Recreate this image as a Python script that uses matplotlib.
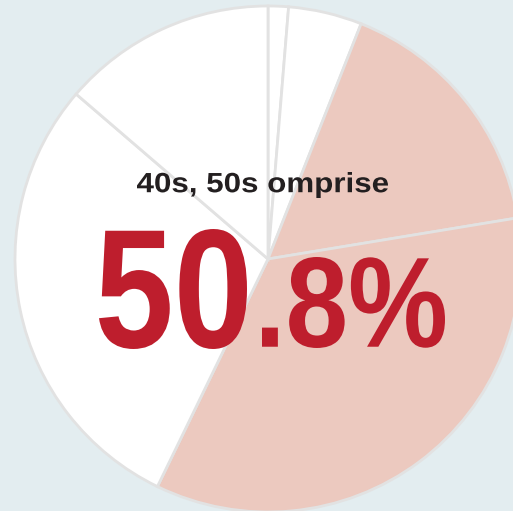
import matplotlib.pyplot as plt
from matplotlib.textpath import TextPath
from matplotlib.font_manager import FontProperties
from matplotlib.patheffects import AbstractPathEffect
from matplotlib.transforms import Affine2D

# age share (percent), clockwise from the top
ages = ['20s', '30s', '40s', '50s', '60s', '70s+']
shares = [1.3, 4.7, 16.4, 34.8, 29.1, 13.7]
highlight = ['40s', '50s']
big_num = '50'
small_num = '.8%'
title = '40s, 50s omprise'

bg = '#e3edf0'
pink = '#ecc9bf'
red = '#be1e2d'
W, H = 513, 511

fig = plt.figure(figsize=(W/100, H/100), dpi=100, facecolor=bg)
ax = fig.add_axes([0, 0, 1, 1])
ax.set_facecolor(bg)

cols = [pink if a in highlight else 'white' for a in ages]
ax.pie(shares, colors=cols, startangle=90, counterclock=False,
       center=(268, H-259), radius=253,
       wedgeprops=dict(edgecolor='#e2e2e2', linewidth=2))
ax.set_xlim(0, W)
ax.set_ylim(0, H)
ax.set_aspect('auto')
ax.axis('off')


class Stretch(AbstractPathEffect):
    # stretches glyphs up from the baseline (original font is taller/narrower)
    def __init__(self, sy):
        super().__init__()
        self.sy = sy

    def draw_path(self, renderer, gc, tpath, affine, rgbFace=None):
        renderer.draw_path(gc, tpath, Affine2D().scale(1, self.sy) + affine, rgbFace)


fp = FontProperties(family='Liberation Sans', weight='bold')

def boxed_text(s, x0, x1, top, bottom, color):
    # real text, font size set by the ink width, then stretched to the ink height
    ext = TextPath((0, 0), s, size=1, prop=fp).get_extents()
    S = (x1 - x0) / ext.width
    sy = (bottom - top) / (ext.height * S)
    x = x0 - ext.x0 * S
    y = (H - bottom) - ext.y0 * S * sy
    ax.text(x, y, s, ha='left', va='baseline', fontproperties=fp,
            fontsize=S * 72 / 100, color=color, path_effects=[Stretch(sy)])

boxed_text(title, 137, 388, 172, 198, '#231f20')
boxed_text(big_num, 99, 247, 229, 349, red)
boxed_text(small_num, 262, 445, 257, 348, red)

fig.savefig('out.png', dpi=100, facecolor=bg)
